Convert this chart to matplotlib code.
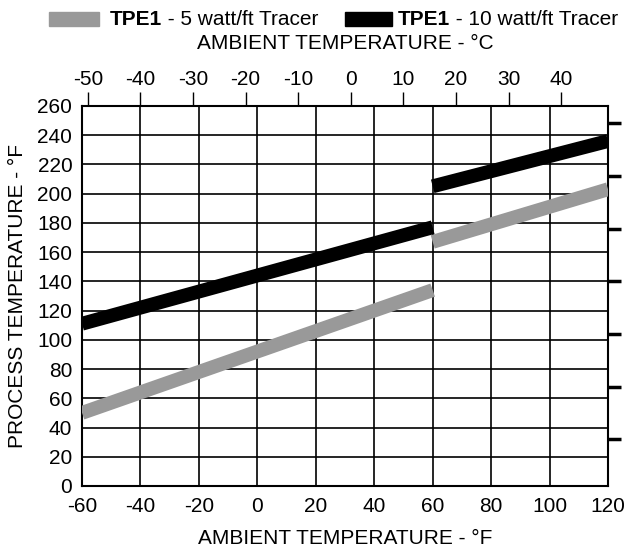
import matplotlib.pyplot as plt
import matplotlib.patches as mpatches

plt.rcParams['font.family'] = ['Liberation Sans', 'DejaVu Sans']
plt.rcParams['axes.unicode_minus'] = False

# ambient (F) vs process temperature (F)
amb_low = [-60, 60]
amb_high = [60, 120]
tpe5_low = [50, 134]
tpe5_high = [167, 203]
tpe10_low = [111, 177]
tpe10_high = [205, 236]

x_ticks_f = [-60, -40, -20, 0, 20, 40, 60, 80, 100, 120]
y_ticks_f = list(range(0, 261, 20))
x_ticks_c = [-50, -40, -30, -20, -10, 0, 10, 20, 30, 40]
y_ticks_c = [0, 20, 40, 60, 80, 100, 120]

gray = '#999999'
fs = 15

fig = plt.figure(figsize=(6.28, 5.5), dpi=100)
ax = fig.add_axes([0.1306, 0.1164, 0.8376, 0.691])

ax.plot(amb_low, tpe5_low, color=gray, lw=10, solid_capstyle='butt', zorder=3)
ax.plot(amb_high, tpe5_high, color=gray, lw=10, solid_capstyle='butt', zorder=3)
ax.plot(amb_low, tpe10_low, color='black', lw=10, solid_capstyle='butt', zorder=3)
ax.plot(amb_high, tpe10_high, color='black', lw=10, solid_capstyle='butt', zorder=3)

ax.set_xlim(-60, 120)
ax.set_ylim(0, 260)
ax.set_xticks(x_ticks_f)
ax.set_yticks(y_ticks_f)
ax.grid(True, color='black', lw=1.2)
ax.set_axisbelow(True)
for s in ax.spines.values():
    s.set_linewidth(1.5)
ax.tick_params(axis='x', length=0, labelsize=fs, pad=8)
ax.tick_params(axis='y', length=0, labelsize=fs, pad=7)
ax.set_xlabel('AMBIENT TEMPERATURE - °F', fontsize=fs, labelpad=9)
ax.set_ylabel('PROCESS TEMPERATURE - °F', fontsize=fs, labelpad=7)

# top axis in celsius
top = ax.secondary_xaxis('top', functions=(lambda f: (f - 32) / 1.8, lambda c: c * 1.8 + 32))
top.set_xticks(x_ticks_c)
top.tick_params(length=10, width=1, labelsize=fs, pad=2)
top.set_xlabel('AMBIENT TEMPERATURE - °C', fontsize=fs, labelpad=15)
top.spines['top'].set_visible(False)

# right axis in celsius, labels cut off
right = ax.secondary_yaxis('right', functions=(lambda f: (f - 32) / 1.8, lambda c: c * 1.8 + 32))
right.set_yticks(y_ticks_c)
right.set_yticklabels([''] * len(y_ticks_c))
right.tick_params(length=9, width=2.5)
right.spines['right'].set_visible(False)

# legend across the top
def legend_item(x, w, xt, color, label):
    fig.add_artist(mpatches.Rectangle((x, 0.9527), w, 0.0255, color=color,
                                      transform=fig.transFigure))
    t = fig.text(xt, 0.965, 'TPE1', fontsize=fs, fontweight='bold', va='center')
    ax.annotate(label, xy=(1, 0.5), xycoords=t, va='center', fontsize=fs)

legend_item(0.078, 0.0796, 0.175, gray, ' - 5 watt/ft Tracer')
legend_item(0.549, 0.075, 0.633, 'black', ' - 10 watt/ft Tracer')

fig.savefig('out.png', dpi=100)
